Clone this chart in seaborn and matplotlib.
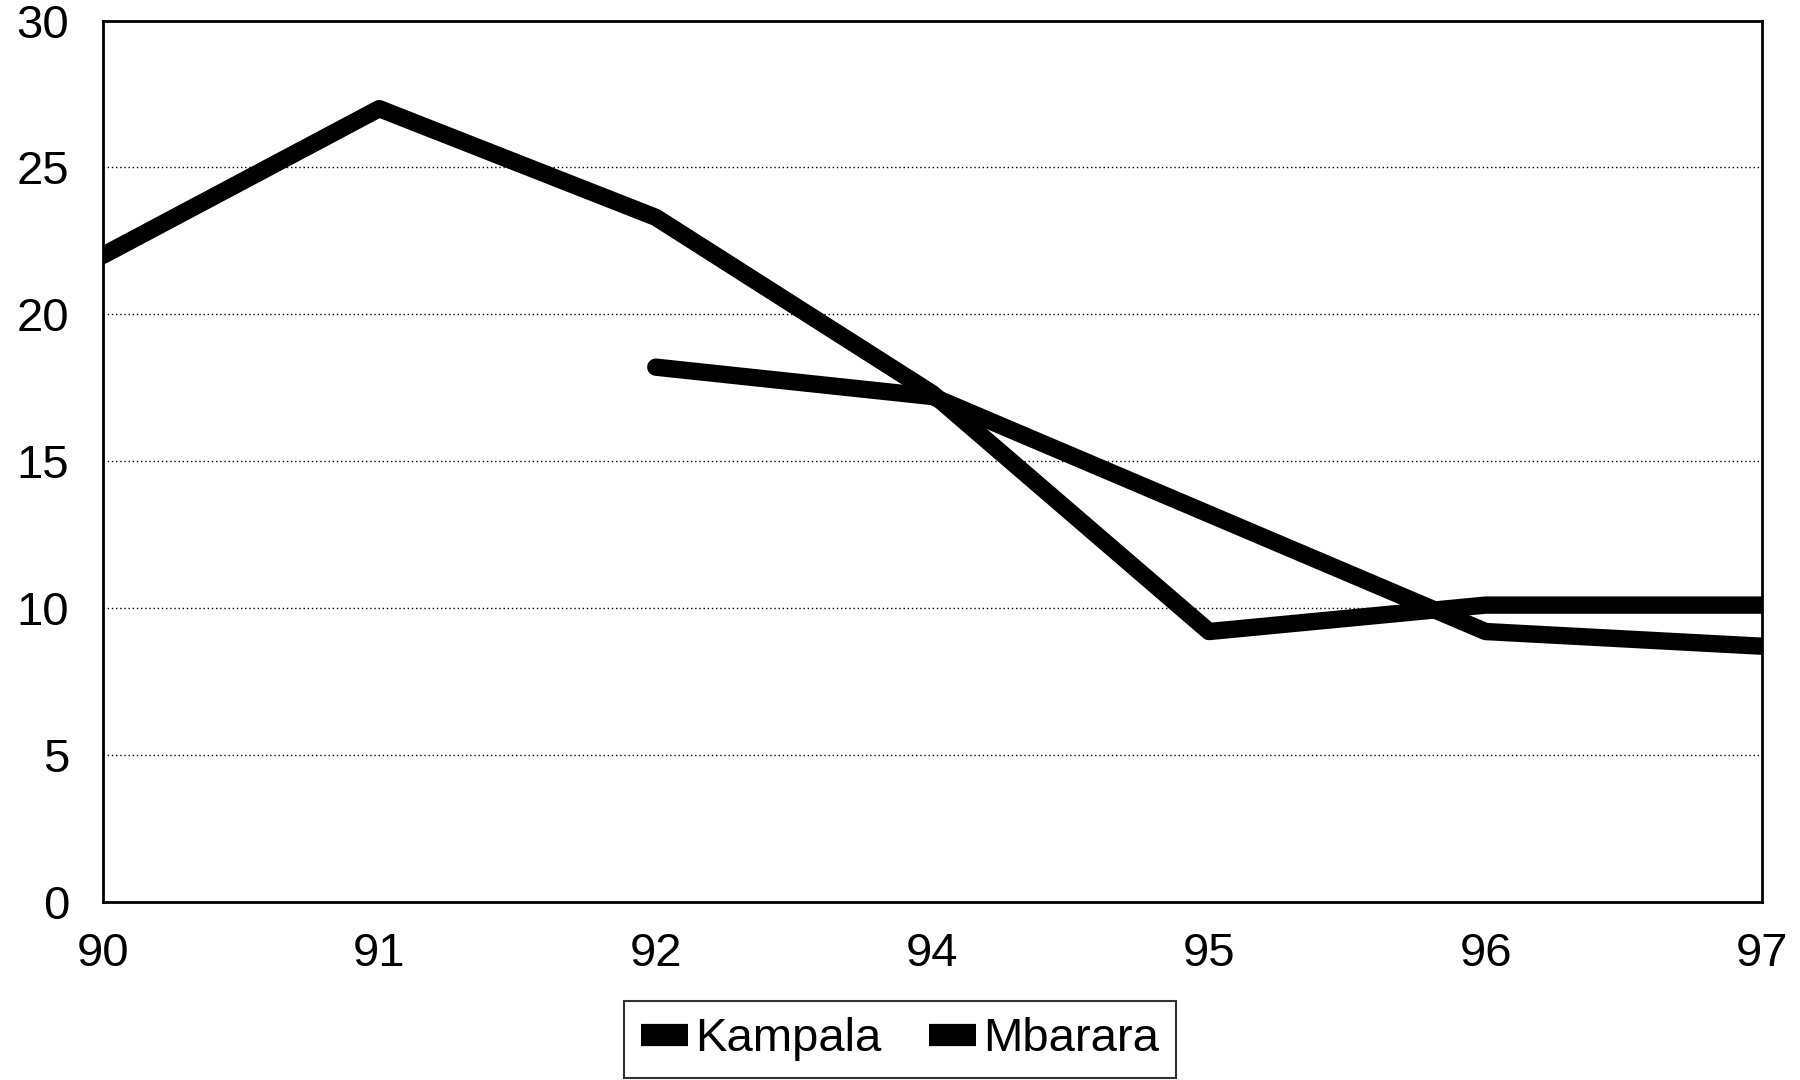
import pandas as pd
import numpy as np
import matplotlib.pyplot as plt
import seaborn as sns
from matplotlib.lines import Line2D

# Values
years = ['90', '91', '92', '94', '95', '96', '97']
kampala = [22.0, 27.0, 23.3, 17.3, 9.2, 10.1, 10.1]
mbarara = [np.nan, np.nan, 18.2, 17.2, 13.2, 9.2, 8.7]

df = pd.DataFrame({
    'year': years * 2,
    'value': kampala + mbarara,
    'city': ['Kampala'] * len(years) + ['Mbarara'] * len(years),
})

sns.set_style('white')
plt.rcParams['font.family'] = ['Liberation Sans', 'DejaVu Sans']
plt.rcParams['text.color'] = 'black'
plt.rcParams['xtick.color'] = 'black'
plt.rcParams['ytick.color'] = 'black'

fig, ax = plt.subplots(figsize=(18, 10.8), dpi=100)
fig.subplots_adjust(left=0.057, right=0.979, top=0.981, bottom=0.165)

sns.lineplot(data=df, x='year', y='value', hue='city',
             palette={'Kampala': 'black', 'Mbarara': 'black'},
             linewidth=12.5, sort=False, ax=ax, legend=False)

ax.set_xlim(0, len(years) - 1)
ax.set_ylim(0, 30)
ax.set_yticks([0, 5, 10, 15, 20, 25, 30])
ax.set_xlabel('')
ax.set_ylabel('')
ax.yaxis.grid(True, linestyle=(0, (1, 2)), color='black', linewidth=1)
ax.xaxis.grid(False)
for s in ax.spines.values():
    s.set_visible(True)
    s.set_color('black')
    s.set_linewidth(2)
ax.tick_params(axis='y', length=0, pad=24, labelsize=34, labelcolor='black')
ax.tick_params(axis='x', length=0, pad=22, labelsize=34, labelcolor='black')

handles = [Line2D([], [], color='black', linewidth=16, solid_capstyle='butt'),
           Line2D([], [], color='black', linewidth=16, solid_capstyle='butt')]
leg = fig.legend(handles, ['Kampala', 'Mbarara'], loc='lower center',
                 bbox_to_anchor=(0.5, -0.02), ncol=2, fontsize=34,
                 frameon=True, fancybox=False, handlelength=1.0,
                 handletextpad=0.15, columnspacing=1.0, borderpad=0.35)
leg.get_frame().set_edgecolor('black')
leg.get_frame().set_linewidth(1.5)

plt.savefig('out.png', dpi=100)
plt.close()
